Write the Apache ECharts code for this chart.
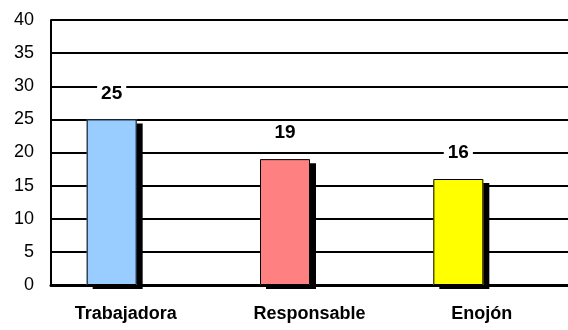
<!DOCTYPE html>
<html>
<head>
<meta charset="utf-8">
<script src="https://cdn.jsdelivr.net/npm/echarts@6/dist/echarts.min.js"></script>
<style>
	html, body { margin: 0; padding: 0; background: #fff; }
	#chart { width: 568px; height: 330px; }
</style>
</head>
<body>
<div id="chart"></div>
<script>
// datos del gráfico
const categorias = ['Trabajadora', 'Responsable', 'Enojón'];
const valores = [25, 19, 16];
const coloresBarra = ['#99CCFF', '#FF8080', '#FFFF00'];
const ejeY = { min: 0, max: 40, interval: 5 };

const fuente = 'Liberation Sans, Arial, sans-serif';

const chart = echarts.init(document.getElementById('chart'));

const option = {
	backgroundColor: '#ffffff',
	animation: false,
	grid: [
		// barras (desplazadas como en el original)
		{ left: 25, right: 23, top: 20, bottom: 45 },
		// ejes visibles
		{ left: 51, right: 0, top: 20, bottom: 45 }
	],
	xAxis: [
		{
			type: 'category',
			gridIndex: 0,
			data: categorias,
			show: false
		},
		{
			type: 'category',
			gridIndex: 1,
			// la primera etiqueta va un poco a la izquierda
			data: categorias.map((c, i) => i === 0
				? { value: c, textStyle: { padding: [0, 23, 0, 0] } }
				: c),
			axisLine: { show: true, lineStyle: { color: '#000', width: 3 } },
			axisTick: { show: false },
			axisLabel: {
				color: '#000',
				fontFamily: fuente,
				fontWeight: 'bold',
				fontSize: 18,
				margin: 20
			}
		}
	],
	yAxis: [
		{
			type: 'value',
			gridIndex: 0,
			min: ejeY.min,
			max: ejeY.max,
			interval: ejeY.interval,
			show: false
		},
		{
			type: 'value',
			gridIndex: 1,
			min: ejeY.min,
			max: ejeY.max,
			interval: ejeY.interval,
			axisLine: { show: true, lineStyle: { color: '#000', width: 2 } },
			axisTick: { show: false },
			axisLabel: {
				color: '#000',
				fontFamily: fuente,
				fontSize: 18,
				margin: 17
			},
			splitLine: {
				show: true,
				lineStyle: { color: '#000', width: 2 }
			}
		}
	],
	series: [
		// relleno con sombra
		{
			type: 'bar',
			xAxisIndex: 0,
			yAxisIndex: 0,
			barWidth: 50,
			barGap: '-100%',
			data: valores.map((v, i) => ({
				value: v,
				itemStyle: { color: coloresBarra[i] }
			})),
			itemStyle: {
				borderWidth: 0,
				shadowColor: '#000',
				shadowBlur: 0,
				shadowOffsetX: 6,
				shadowOffsetY: 4
			}
		},
		// borde y etiqueta
		{
			type: 'bar',
			xAxisIndex: 0,
			yAxisIndex: 0,
			barWidth: 50,
			barGap: '-100%',
			data: valores,
			itemStyle: {
				color: 'rgba(0,0,0,0)',
				borderColor: '#000',
				borderWidth: 1
			},
			label: {
				show: true,
				position: 'top',
				distance: 16,
				color: '#000',
				fontFamily: fuente,
				fontWeight: 'bold',
				fontSize: 19,
				lineHeight: 20,
				backgroundColor: '#fff',
				padding: [0, 4]
			}
		}
	]
};

chart.setOption(option);
</script>
</body>
</html>
